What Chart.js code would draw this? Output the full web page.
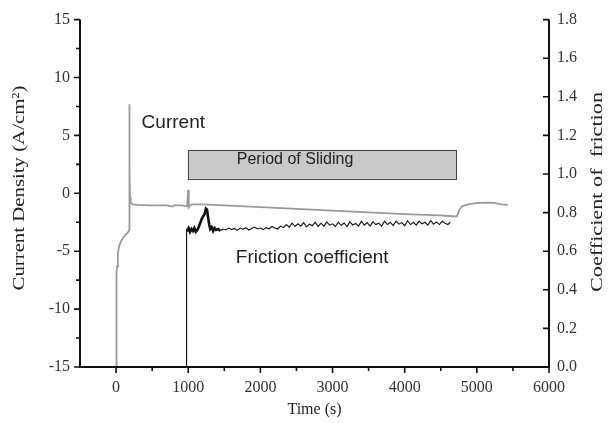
<!DOCTYPE html>
<html>
<head>
<meta charset="utf-8">
<script src="https://cdn.jsdelivr.net/npm/chart.js@4"></script>
<style>
html,body{margin:0;padding:0;background:#fff;}
#wrap{width:613px;height:423px;position:relative;}
</style>
</head>
<body>
<div id="wrap"><canvas id="c" width="613" height="423"></canvas></div>
<script>
// ---- Data ----
const currentTime = [0,3,8,14,25,40,58,90,127,160,181,183,188,193,203,230,300,500,700,780,800,900,985,1000,1008,1018,1060,1200,1500,2000,2500,3000,3500,4000,4480,4720,4730,4760,4800,4880,4980,5140,5240,5340,5430];
const currentDensity = [-15,-10,-7,-6.3,-5.2,-4.6,-4.3,-3.9,-3.6,-3.4,-3.2,7.7,2,-0.3,-0.8,-0.95,-1.0,-1.05,-1.05,-1.15,-1.05,-1.05,-1.1,0.3,-1.2,-1.1,-0.95,-0.95,-1.05,-1.2,-1.35,-1.5,-1.65,-1.8,-1.9,-2.0,-1.9,-1.4,-1.1,-0.95,-0.85,-0.8,-0.82,-0.95,-1.0];

const frictionTime = [975,977,990,1005,1025,1045,1065,1085,1105,1125,1145,1165,1185,1205,1225,1245,1260,1275,1290,1305,1325,1345,1365,1385,1415,1445,
  1480,1520,1560,1600,1640,1680,1720,1760,1800,1840,1880,1920,1960,2000,2040,2080,2120,2160,2200,2240,2280,2320,2360,2400,2440,2480,2520,2560,2600,2640,2680,2720,2760,2800,2840,2880,2920,2960,3000,3040,3080,3120,3160,3200,3240,3280,3320,3360,3400,3440,3480,3520,3560,3600,3640,3680,3720,3760,3800,3840,3880,3920,3960,4000,4040,4080,4120,4160,4200,4240,4280,4320,4360,4400,4440,4480,4520,4560,4600,4630];
const friction = [0,0.715,0.71,0.72,0.70,0.715,0.705,0.72,0.70,0.71,0.725,0.745,0.765,0.78,0.79,0.82,0.815,0.775,0.74,0.715,0.725,0.705,0.72,0.71,0.715,0.705,
  0.715,0.71,0.72,0.712,0.718,0.708,0.72,0.714,0.722,0.71,0.718,0.725,0.715,0.72,0.712,0.722,0.716,0.728,0.72,0.715,0.73,0.722,0.738,0.725,0.745,0.728,0.742,0.73,0.748,0.726,0.74,0.732,0.75,0.728,0.745,0.73,0.752,0.735,0.742,0.728,0.75,0.733,0.746,0.728,0.752,0.736,0.744,0.73,0.755,0.735,0.748,0.73,0.752,0.738,0.745,0.73,0.755,0.738,0.75,0.733,0.756,0.74,0.748,0.732,0.758,0.738,0.75,0.735,0.756,0.742,0.75,0.735,0.758,0.74,0.752,0.738,0.755,0.745,0.738,0.75];

const timeTicks = [0,1000,2000,3000,4000,5000,6000];
const timeMinorTicks = [500,1500,2500,3500,4500,5500];
const currentTicks = [-15,-10,-5,0,5,10,15];
const currentMinorTicks = [-12.5,-7.5,-2.5,2.5,7.5,12.5];
const frictionTicks = [0,0.2,0.4,0.6,0.8,1.0,1.2,1.4,1.6,1.8];

// annotations (left-axis units)
const slidingBox = {x0:1000, x1:4720, y0:1.26, y1:3.76, label:'Period of Sliding', lx:2480, ly:2.55};
const textLabels = [
  {text:'Current', x:354, y:5.65},
  {text:'Friction coefficient', x:1660, y:-5.99}
];

const serif = '"Liberation Serif", "Times New Roman", serif';
const sans = '"Liberation Sans", Arial, sans-serif';

function drawStretched(ctx, text, cx, cy, targetLen){
  ctx.save();
  ctx.translate(cx, cy);
  ctx.rotate(-Math.PI/2);
  const w = ctx.measureText(text).width;
  ctx.scale(targetLen / w, 1);
  ctx.fillText(text, 0, 0);
  ctx.restore();
}

const axesPlugin = {
  id:'axesPlugin',
  afterDatasetsDraw(chart){
    const ctx = chart.ctx;
    const xs = chart.scales.x, yl = chart.scales.y, yr = chart.scales.y1;
    const a = chart.chartArea;
    ctx.save();
    // sliding box
    const bx0 = xs.getPixelForValue(slidingBox.x0), bx1 = xs.getPixelForValue(slidingBox.x1);
    const by0 = yl.getPixelForValue(slidingBox.y1), by1 = yl.getPixelForValue(slidingBox.y0);
    ctx.fillStyle = '#c9c9c9';
    ctx.fillRect(bx0, by0, bx1-bx0, by1-by0);
    ctx.strokeStyle = '#444'; ctx.lineWidth = 1;
    ctx.strokeRect(Math.round(bx0)+0.5, Math.round(by0)+0.5, Math.round(bx1-bx0), Math.round(by1-by0));
    ctx.fillStyle = '#222';
    ctx.font = '16px ' + sans;
    ctx.textAlign = 'center'; ctx.textBaseline = 'alphabetic';
    ctx.fillText(slidingBox.label, xs.getPixelForValue(slidingBox.lx), yl.getPixelForValue(slidingBox.ly));
    // text labels
    ctx.font = '19px ' + sans; ctx.textAlign = 'left';
    textLabels.forEach(t => ctx.fillText(t.text, xs.getPixelForValue(t.x), yl.getPixelForValue(t.y)));
    // axes lines
    ctx.strokeStyle = '#111'; ctx.lineWidth = 2; ctx.lineCap = 'butt';
    ctx.beginPath();
    ctx.moveTo(a.left, a.top); ctx.lineTo(a.left, a.bottom+1);
    ctx.moveTo(a.left-1, a.bottom); ctx.lineTo(a.right+1, a.bottom);
    ctx.moveTo(a.right, a.top); ctx.lineTo(a.right, a.bottom+1);
    ctx.stroke();
    ctx.lineWidth = 1.6;
    ctx.beginPath();
    timeTicks.forEach(v => { const p = xs.getPixelForValue(v); ctx.moveTo(p, a.bottom); ctx.lineTo(p, a.bottom+6); });
    timeMinorTicks.forEach(v => { const p = xs.getPixelForValue(v); ctx.moveTo(p, a.bottom); ctx.lineTo(p, a.bottom+4); });
    currentTicks.forEach(v => { const p = yl.getPixelForValue(v); ctx.moveTo(a.left, p); ctx.lineTo(a.left-6, p); });
    currentMinorTicks.forEach(v => { const p = yl.getPixelForValue(v); ctx.moveTo(a.left, p); ctx.lineTo(a.left-4, p); });
    frictionTicks.forEach(v => { const p = yr.getPixelForValue(v); ctx.moveTo(a.right, p); ctx.lineTo(a.right-6, p); });
    ctx.stroke();
    // axis titles
    ctx.fillStyle = '#222';
    ctx.font = '16px ' + serif;
    ctx.textAlign = 'center'; ctx.textBaseline = 'middle';
    ctx.fillText('Time (s)', (a.left+a.right)/2, 410);
    ctx.font = '17px ' + serif;
    drawStretched(ctx, 'Current Density (A/cm²)', 20, 188, 205);
    drawStretched(ctx, 'Coefficient of  friction', 598, 192, 200);
    ctx.restore();
  }
};

const toXY = (xsArr, ysArr) => xsArr.map((x,i)=>({x, y: ysArr[i]}));

new Chart(document.getElementById('c'), {
  type:'line',
  data:{
    datasets:[
      {label:'Current', data: toXY(currentTime, currentDensity), yAxisID:'y', borderColor:'#9a9a9a', borderWidth:1.8, pointRadius:0, tension:0, fill:false},
      {label:'Friction coefficient', data: toXY(frictionTime, friction), yAxisID:'y1', borderColor:'#111', borderWidth:1, pointRadius:0, tension:0, fill:false,
        segment:{borderWidth: c => (c.p0.parsed.x >= 977 && c.p0.parsed.x < 1445) ? 2.6 : 1.1}}
    ]
  },
  options:{
    responsive:false, animation:false, devicePixelRatio:1,
    layout:{padding:{top:18, left:0, right:0, bottom:0}},
    plugins:{legend:{display:false}, tooltip:{enabled:false}},
    scales:{
      x:{type:'linear', min:-500, max:6000,
        afterBuildTicks: s => { s.ticks = timeTicks.map(v=>({value:v})); },
        afterFit: s => { s.height = 56; },
        grid:{display:false, drawTicks:false}, border:{display:false},
        ticks:{padding:11, maxRotation:0, autoSkip:false, color:'#333', font:{family:serif, size:16}, callback: v => String(v)}
      },
      y:{type:'linear', position:'left', min:-15, max:15,
        afterBuildTicks: s => { s.ticks = currentTicks.map(v=>({value:v})); },
        afterFit: s => { s.width = 80; },
        grid:{display:false, drawTicks:false}, border:{display:false},
        ticks:{padding:10, autoSkip:false, color:'#333', font:{family:serif, size:16}, callback: v => String(v)}
      },
      y1:{type:'linear', position:'right', min:0, max:1.8,
        afterBuildTicks: s => { s.ticks = frictionTicks.map(v=>({value:v})); },
        afterFit: s => { s.width = 64; },
        grid:{display:false, drawTicks:false}, border:{display:false},
        ticks:{padding:8, autoSkip:false, color:'#333', font:{family:serif, size:16}, callback: v => Number(v).toFixed(1)}
      }
    }
  },
  plugins:[axesPlugin]
});
</script>
</body>
</html>
